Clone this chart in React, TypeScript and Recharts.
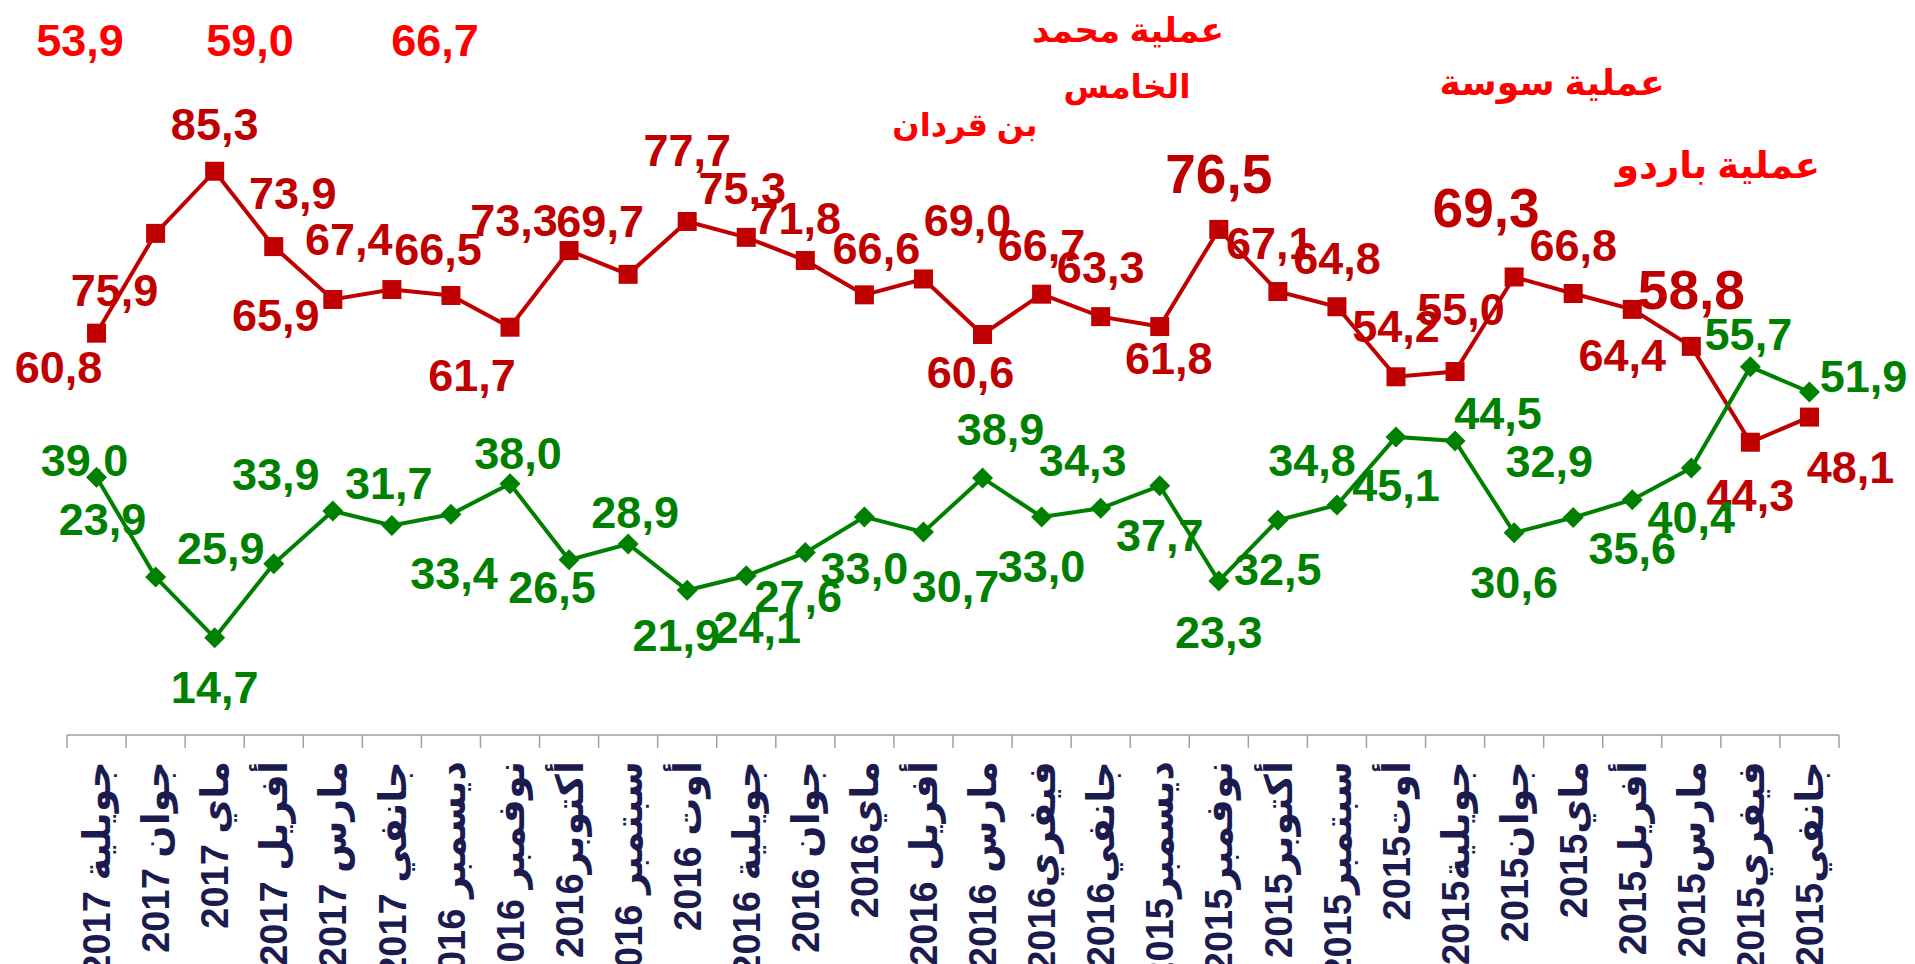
import React from 'react';
import { LineChart, Line, XAxis, YAxis, LabelList, Customized } from 'recharts';

// months, newest first, as written under the axis
const months = [
  'جويلية 2017', 'جوان 2017', 'ماي 2017', 'أفريل 2017', 'مارس 2017', 'جانفي 2017',
  'ديسمبر 2016', 'نوفمبر 2016', 'أكتوبر2016', 'سبتمبر 2016', 'أوت 2016', 'جويلية 2016',
  'جوان 2016', 'ماي2016', 'أفريل 2016', 'مارس 2016', 'فيفري2016', 'جانفي2016',
  'ديسمبر2015', 'نوفمبر2015', 'أكتوبر2015', 'سبتمبر2015', 'أوت2015', 'جويلية2015',
  'جوان2015', 'ماي2015', 'أفريل2015', 'مارس2015', 'فيفري2015', 'جانفي2015',
];

const redValues = [
  60.8, 75.9, 85.3, 73.9, 65.9, 67.4, 66.5, 61.7, 73.3, 69.7, 77.7, 75.3, 71.8, 66.6, 69.0,
  60.6, 66.7, 63.3, 61.8, 76.5, 67.1, 64.8, 54.2, 55.0, 69.3, 66.8, 64.4, 58.8, 44.3, 48.1,
];

const greenValues = [
  39.0, 23.9, 14.7, 25.9, 33.9, 31.7, 33.4, 38.0, 26.5, 28.9, 21.9, 24.1, 27.6, 33.0, 30.7,
  38.9, 33.0, 34.3, 37.7, 23.3, 32.5, 34.8, 45.1, 44.5, 30.6, 32.9, 35.6, 40.4, 55.7, 51.9,
];

// red notes at the top-left and the event captions
const topNotes = ['53,9', '59,0', '66,7'];
const events = ['عملية محمد', 'الخامس', 'بن قردان', 'عملية سوسة', 'عملية باردو'];

// label placement relative to each point (dx, dy)
const redShift = [
  [-38, 34], [-41, 57], [0, -47], [19, -53], [-57, 16], [-43, -50], [-13, -46], [-38, 48],
  [-55, -30], [-28, -53], [0, -71], [-4, -49], [-8, -42], [12, -46], [44, -58], [-12, 38],
  [0, -49], [0, -49], [9, 32], [0, -55], [-8, -48], [0, -48], [0, -50], [6, -62],
  [-28, -69], [0, -48], [-10, 46], [0, -56], [0, 53], [41, 50],
];
const greenShift = [
  [-12, -17], [-53, -58], [0, 50], [-53, -15], [-57, -36], [-3, -42], [3, 59], [8, -30],
  [-17, 28], [7, -31], [-11, 45], [11, 52], [-7, 44], [0, 52], [32, 54], [18, -48],
  [0, 50], [-18, -48], [0, 50], [0, 51], [0, 49], [-25, -45], [0, 49], [43, -27],
  [0, 50], [-24, -56], [0, 49], [0, 50], [-2, -32], [54, -15],
];
const bigRed = [19, 24, 27];

const RED = '#C00000';
const GREEN = '#008000';
const BRIGHT = '#FF0000';
const NAVY = '#1B1B4F';
const FONT = '"Liberation Sans", Arial, "DejaVu Sans", sans-serif';

const data = months.map((m, i) => ({ month: m, red: redValues[i], green: greenValues[i] }));

const fmt = (v: number) => v.toFixed(1).replace('.', ',');

const makeLabel = (shift: number[][], color: string, big: number[]) => (props: any) => {
  const { x, y, value, index } = props;
  const [dx, dy] = shift[index];
  return (
    <text
      x={x + dx}
      y={y + dy}
      textAnchor="middle"
      dominantBaseline="central"
      fill={color}
      fontFamily={FONT}
      fontWeight="bold"
      fontSize={big.includes(index) ? 55 : 45}
    >
      {fmt(value)}
    </text>
  );
};

const SquareDot = (props: any) => {
  const { cx, cy } = props;
  return <rect x={cx - 9.5} y={cy - 9.5} width={19} height={19} fill={RED} />;
};

const DiamondDot = (props: any) => {
  const { cx, cy } = props;
  const r = 10.5;
  return (
    <polygon
      points={`${cx},${cy - r} ${cx + r},${cy} ${cx},${cy + r} ${cx - r},${cy}`}
      fill={GREEN}
    />
  );
};

const MonthTick = (props: any) => {
  const { x, y, payload, index, visibleTicksCount } = props;
  const half = payload.offset || 29.5;
  const last = index === (visibleTicksCount ?? months.length) - 1;
  return (
    <g>
      <line x1={x - half} y1={y} x2={x - half} y2={y + 13} stroke="#A0A0A0" strokeWidth={1.5} />
      {last && <line x1={x + half} y1={y} x2={x + half} y2={y + 13} stroke="#A0A0A0" strokeWidth={1.5} />}
      <text
        x={x}
        y={y + 26}
        transform={`rotate(-90, ${x}, ${y + 26})`}
        textAnchor="end"
        dy="0.36em"
        fill={NAVY}
        fontFamily={FONT}
        fontWeight="bold"
        fontSize={38}
      >
        {payload.value}
      </text>
    </g>
  );
};

const Notes = () => (
  <g fontFamily={FONT} fontWeight="bold" fill={BRIGHT}>
    <text x={80} y={40} textAnchor="middle" dominantBaseline="central" fontSize={45}>{topNotes[0]}</text>
    <text x={250} y={40} textAnchor="middle" dominantBaseline="central" fontSize={45}>{topNotes[1]}</text>
    <text x={435} y={40} textAnchor="middle" dominantBaseline="central" fontSize={45}>{topNotes[2]}</text>
    <text x={1128} y={30} textAnchor="middle" dominantBaseline="central" fontSize={34}>{events[0]}</text>
    <text x={1127} y={86} textAnchor="middle" dominantBaseline="central" fontSize={33}>{events[1]}</text>
    <text x={965} y={125} textAnchor="middle" dominantBaseline="central" fontSize={32}>{events[2]}</text>
    <text x={1552} y={82} textAnchor="middle" dominantBaseline="central" fontSize={36}>{events[3]}</text>
    <text x={1718} y={165} textAnchor="middle" dominantBaseline="central" fontSize={37}>{events[4]}</text>
  </g>
);

export default function App() {
  return (
    <div style={{ width: 1915, height: 964, background: '#fff' }}>
      <style>{'body{margin:0}'}</style>
      <LineChart
        width={1915}
        height={964}
        data={data}
        margin={{ top: 8, right: 76, left: 67, bottom: 9 }}
      >
        <XAxis
          dataKey="month"
          scale="band"
          interval={0}
          height={220}
          tickSize={0}
          tickMargin={0}
          tickLine={false}
          axisLine={{ stroke: '#A0A0A0', strokeWidth: 1.5 }}
          tick={<MonthTick />}
        />
        <YAxis hide domain={[0, 110]} />
        <Customized component={Notes} />
        {/* labels first so the lines pass over them */}
        <Line dataKey="red" stroke="none" dot={false} activeDot={false} isAnimationActive={false}>
          <LabelList dataKey="red" content={makeLabel(redShift, RED, bigRed)} />
        </Line>
        <Line dataKey="green" stroke="none" dot={false} activeDot={false} isAnimationActive={false}>
          <LabelList dataKey="green" content={makeLabel(greenShift, GREEN, [])} />
        </Line>
        <Line
          dataKey="red"
          stroke={RED}
          strokeWidth={4}
          dot={<SquareDot />}
          activeDot={false}
          isAnimationActive={false}
        />
        <Line
          dataKey="green"
          stroke={GREEN}
          strokeWidth={4}
          dot={<DiamondDot />}
          activeDot={false}
          isAnimationActive={false}
        />
      </LineChart>
    </div>
  );
}
